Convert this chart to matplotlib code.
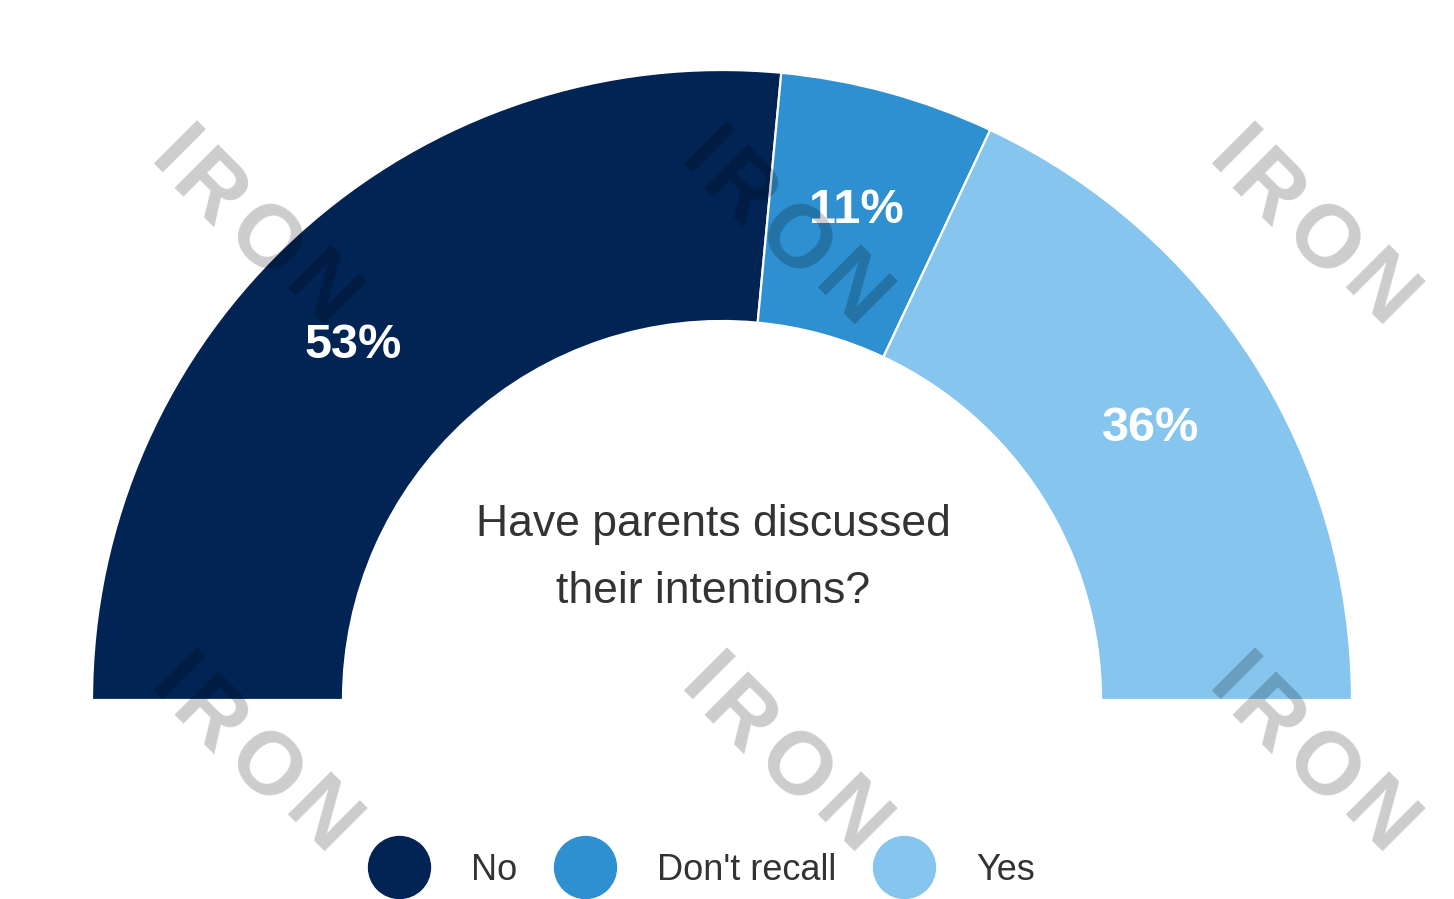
import numpy as np
import matplotlib
matplotlib.use("Agg")
import matplotlib.pyplot as plt
from matplotlib.lines import Line2D

plt.rcParams['font.family'] = ['Liberation Sans', 'DejaVu Sans']

# ------- data ---------
categories = ["No", "Don't recall", "Yes"]
values = [53, 11, 36]
colors = ["#012454", "#2E90D0", "#85C5EE"]
title = "Have parents discussed\ntheir intentions?"
watermark = "IRON"

W, H = 1454, 899
fig = plt.figure(figsize=(W / 100, H / 100), dpi=100)
ax = fig.add_axes([0, 0, 1, 1])

# half donut: values fill the top 180 degrees
fracs = [v / 200 for v in values]
wedges, texts, autotexts = ax.pie(
    fracs, normalize=False, startangle=180, counterclock=False,
    colors=colors, center=(722, 199), radius=630,
    wedgeprops=dict(width=251, edgecolor="white", linewidth=1.6),
    autopct=lambda p: "{:.0f}%".format(p * 2), pctdistance=0.805,
    textprops=dict(color="white", fontsize=35, fontweight="bold"))

# the big slice's label sits a bit further round in the reference
autotexts[0].set_position((353, H - 345))

ax.set_xlim(0, W)
ax.set_ylim(0, H)
ax.set_aspect("equal")
ax.axis("off")

ax.text(713, H - 558, title, ha="center", va="center", fontsize=32,
        color="#333333", linespacing=1.8)

# ------- legend ---------
handles = [Line2D([], [], linestyle="none", marker="o", markersize=44.6,
                  markerfacecolor=c, markeredgecolor=c) for c in colors]
fig.legend(handles, categories, loc="center", bbox_to_anchor=(0.482, 0.032),
           ncol=3, frameon=False, fontsize=26, handlelength=1.8,
           handletextpad=1.1, columnspacing=0.97, borderpad=0,
           labelcolor="#333333")

# ------- watermark ---------
offsets = [(0, 0), (35, 38), (91, 88), (148, 138)]
for bx in [172, 702, 1230]:
    for by in [155, 682]:
        for ch, (dx, dy) in zip(watermark, offsets):
            ax.text(bx + dx, H - (by + dy), ch, fontsize=64, fontweight="bold",
                    color="black", alpha=0.2, rotation=-45,
                    ha="center", va="center", rotation_mode="anchor", zorder=10)

fig.savefig("out.png", dpi=100, facecolor="white")
